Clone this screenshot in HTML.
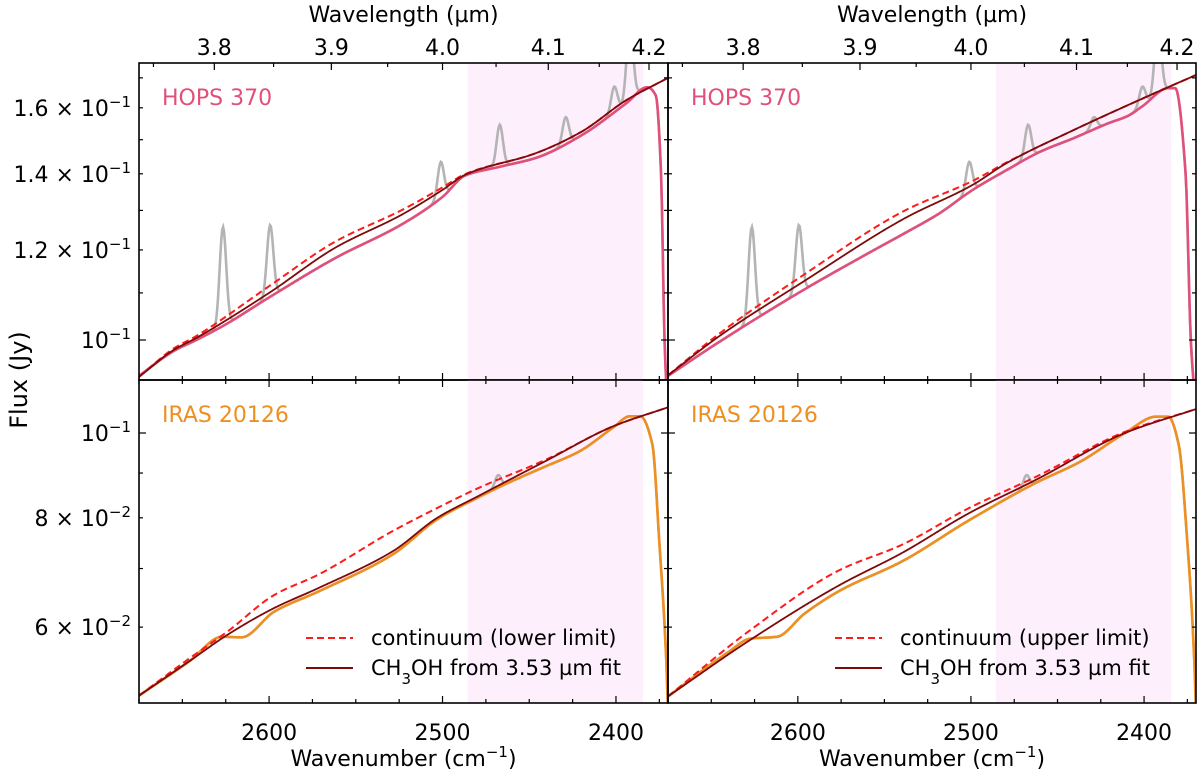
<!DOCTYPE html>
<html><head><meta charset="utf-8"><style>
html,body{margin:0;padding:0;background:#fff;}
svg{display:block;font-family:"DejaVu Sans","Liberation Sans",sans-serif;}
</style></head><body>
<svg id="chart" width="1200" height="772" viewBox="0 0 1200 772" xmlns="http://www.w3.org/2000/svg"></svg>
<script>
// ---------- DATA ----------
const shadeRange = [2485.5, 2384.5];
// HOPS 370 left (lower limit)
const hopsL_modelWn = [2675,2655,2642,2600,2562,2523,2500,2487,2446,2420,2394,2370];
const hopsL_modelF  = [0.0928,0.098,0.1004,0.110,0.1205,0.129,0.1355,0.1397,0.146,0.1524,0.1625,0.170];
const hopsL_contWn  = [2675,2655,2642,2600,2562,2523,2500,2487,2446,2420,2394,2370];
const hopsL_contF   = [0.0928,0.0983,0.1008,0.1115,0.122,0.1302,0.1362,0.1399,0.146,0.1524,0.1625,0.170];
const hopsL_dataWn  = [2675,2655,2642,2626,2600,2562,2523,2500,2487,2467,2446,2420,2394,2382,2377,2374,2372,2370.5];
const hopsL_dataF   = [0.093,0.0978,0.100,0.103,0.109,0.118,0.1265,0.1336,0.1395,0.142,0.1446,0.1513,0.1615,0.1668,0.164,0.14,0.10,0.088];
// HOPS 370 right (upper limit)
const hopsR_modelWn = [2675,2645.7,2597,2538,2499,2479.6,2440.5,2401,2370];
const hopsR_modelF  = [0.0931,0.1007,0.1125,0.128,0.1369,0.143,0.153,0.163,0.171];
const hopsR_contWn  = [2675,2645.7,2597,2538,2499,2479.6,2440.5,2401,2370];
const hopsR_contF   = [0.0931,0.1012,0.114,0.130,0.138,0.1432,0.153,0.163,0.171];
const hopsR_dataWn  = [2675,2645,2597,2557.6,2538,2519,2499,2479.6,2460,2440.5,2421,2409,2401,2386,2382,2376,2373,2370.5];
const hopsR_dataF   = [0.093,0.0997,0.1106,0.1196,0.1242,0.129,0.1355,0.141,0.1464,0.1505,0.155,0.1575,0.1605,0.1665,0.1665,0.14,0.10,0.088];
// Gray emission lines (HOPS): centres and absolute peak flux
const hopsLineWn = [2626.6,2599.4,2501,2467,2429,2401,2392];
const hopsLinePeak = [0.1257,0.1262,0.1434,0.1546,0.157,0.167,0.19];
// IRAS 20126 left
const irasL_modelWn = [2675,2645.7,2624,2597,2571.5,2528.5,2503,2479.4,2440.5,2401.5,2370];
const irasL_modelF  = [0.0501,0.0549,0.0588,0.0631,0.0665,0.0733,0.080,0.0847,0.0929,0.1018,0.107];
const irasL_contWn  = [2675,2645.7,2624,2597,2571.5,2528.5,2503,2479.4,2440.5,2401.5,2370];
const irasL_contF   = [0.0501,0.0553,0.0593,0.0653,0.0689,0.0773,0.0821,0.0865,0.0932,0.1018,0.107];
const irasL_dataWn  = [2675,2645.7,2627,2616,2597,2571.5,2528.5,2503,2479,2460,2440.5,2421,2401.5,2392,2386,2379,2375,2371,2370];
const irasL_dataF   = [0.0501,0.0549,0.0585,0.0584,0.0625,0.0659,0.0727,0.0797,0.0845,0.0881,0.0916,0.0953,0.1015,0.1045,0.1045,0.097,0.075,0.055,0.048];
// IRAS 20126 right
const irasR_modelWn = [2675,2627.6,2576,2540,2501,2462.5,2411,2370];
const irasR_modelF  = [0.050,0.058,0.067,0.0729,0.081,0.0884,0.100,0.1065];
const irasR_contWn  = [2675,2627.6,2576,2540,2501,2462.5,2411,2370];
const irasR_contF   = [0.050,0.0595,0.0697,0.0745,0.0821,0.0891,0.1003,0.1065];
const irasR_dataWn  = [2675,2640,2627.6,2612,2596,2576,2540,2501,2462.5,2437,2411,2393,2386,2380,2375,2371,2370];
const irasR_dataF   = [0.050,0.0562,0.0582,0.0585,0.0622,0.066,0.0713,0.0795,0.0877,0.0927,0.100,0.1044,0.1044,0.097,0.075,0.055,0.048];
const irasLineWn = [2468];
const irasLinePeak = [0.0895];
// ticks
const xMajor = [2600,2500,2400];
const wlMajor = [3.8,3.9,4.0,4.1,4.2];
const topYMinor = [0.09,0.11,0.13,0.15,0.17];
const topYLabeled = [0.12,0.14,0.16];
const topYLabels = ["1.2","1.4","1.6"];
const botYMinor = [0.07,0.09];
const botYLabeled = [0.06,0.08];
const botYLabels = ["6","8"];

// ---------- LAYOUT ----------
const NS="http://www.w3.org/2000/svg";
const svg=document.getElementById('chart');
const colL=[139,668], colR=[668,1196];
const rowT=[63,380], rowB=[380,703];
const wnMin=2370, wnMax=2675;
const C={hops:'#e0507a',iras:'#ee8f22',model:'#7f0a0a',cont:'#ff1a1a',gray:'#b4b4b4',shade:'#fdeffc'};
function el(t,a,p){const e=document.createElementNS(NS,t);for(const k in a)e.setAttribute(k,a[k]);(p||svg).appendChild(e);return e;}
function xs(col){return wn=>col[0]+(wnMax-wn)/(wnMax-wnMin)*(col[1]-col[0]);}
function ysTop(f){return 340-494*Math.log(f/0.1);}
function ysBot(f){return 433-380*Math.log(f/0.1);}
function pchip(xa,ya){
  const n=xa.length,h=[],d=[],m=new Array(n);
  for(let i=0;i<n-1;i++){h.push(xa[i+1]-xa[i]);d.push((ya[i+1]-ya[i])/h[i]);}
  m[0]=d[0];m[n-1]=d[n-2];
  for(let i=1;i<n-1;i++){
    if(d[i-1]*d[i]<=0)m[i]=0;
    else{const w1=2*h[i]+h[i-1],w2=h[i]+2*h[i-1];m[i]=(w1+w2)/(w1/d[i-1]+w2/d[i]);}
  }
  return x=>{
    let i=0;while(i<n-2&&x>xa[i+1])i++;
    const t=(x-xa[i])/h[i],t2=t*t,t3=t2*t;
    return (2*t3-3*t2+1)*ya[i]+(t3-2*t2+t)*h[i]*m[i]+(-2*t3+3*t2)*ya[i+1]+(t3-t2)*h[i]*m[i+1];
  };
}
function curve(wnArr,fArr){
  const xa=wnArr.slice().reverse(),ya=fArr.map(f=>Math.log(f)).reverse();
  const p=pchip(xa,ya);
  return w=>Math.exp(p(Math.min(Math.max(w,xa[0]),xa[xa.length-1])));
}
function sampledPath(fn,X,ys,wEnd){
  const pts=[];
  for(let w=wnMax;w>=wEnd;w-=0.5)pts.push(X(w).toFixed(2)+','+ys(fn(w)).toFixed(2));
  pts.push(X(wEnd).toFixed(2)+','+ys(fn(wEnd)).toFixed(2));
  return 'M'+pts.join('L');
}
const defs=el('defs',{});
function clipRect(id,col,row){
  const cp=el('clipPath',{id:id},defs);
  el('rect',{x:col[0],y:row[0],width:col[1]-col[0],height:row[1]-row[0]},cp);
}

function panel(opts){
  const {col,row,ys,name,label,labelColor,dataWn,dataF,modelWn,modelF,contWn,contF,lineWn,linePeak,top,bottom,leftLabels,yMinor,yLab,yLabTxt,yExp,legend}=opts;
  const X=xs(col);
  const g=el('g',{});
  
  
  const cid='clip-'+name; clipRect(cid,col,row);
  const pg=el('g',{'clip-path':'url(#'+cid+')'},g);
  const sh=el('rect',{x:X(shadeRange[0]),y:row[0],width:X(shadeRange[1])-X(shadeRange[0]),height:row[1]-row[0],fill:C.shade},pg);
  
  
  const dataFn=curve(dataWn,dataF);
  const wEnd=dataWn[dataWn.length-1];
  const amps=lineWn.map((c,k)=>linePeak[k]-dataFn(c));
  const grayFn=w=>{let f=dataFn(w);for(let k=0;k<lineWn.length;k++)f+=amps[k]*Math.exp(-0.5*Math.pow((w-lineWn[k])/1.8,2));return f;};
  const gl=el('path',{d:sampledPath(grayFn,X,ys,wEnd),fill:'none',stroke:C.gray,'stroke-width':2.6},pg);
  
  
  const dl=el('path',{d:sampledPath(dataFn,X,ys,wEnd),fill:'none',stroke:labelColor,'stroke-width':2.6},pg);
  
  
  const cl=el('path',{d:sampledPath(curve(contWn,contF),X,ys,wnMin),fill:'none',stroke:C.cont,'stroke-width':2,'stroke-dasharray':'7,4'},pg);
  
  
  const ml=el('path',{d:sampledPath(curve(modelWn,modelF),X,ys,wnMin),fill:'none',stroke:C.model,'stroke-width':1.8},pg);
  
  
  const fr=el('rect',{x:col[0],y:row[0],width:col[1]-col[0],height:row[1]-row[0],fill:'none',stroke:'#000','stroke-width':1.6},g);
  
  
  for(let w=2675;w>=2370;w-=25){
    const x=X(w); const maj=(w%100===0); const L=maj?7:4;
    el('line',{x1:x,x2:x,y1:row[1],y2:row[1]-L,stroke:'#000','stroke-width':1.2},g);
    if(!top) el('line',{x1:x,x2:x,y1:row[0],y2:row[0]+L,stroke:'#000','stroke-width':1.2},g);
  }
  if(top){
    for(let wl=3.75;wl<=4.2201;wl+=0.05){
      const x=X(10000/wl); if(x<col[0]||x>col[1])continue;
      el('line',{x1:x,x2:x,y1:row[0],y2:row[0]+(Math.abs(wl*10-Math.round(wl*10))<0.01?7:4),stroke:'#000','stroke-width':1.2},g);
    }
    wlMajor.forEach(wl=>{
      const t=el('text',{x:X(10000/wl),y:55,'font-size':22,'text-anchor':'middle'},g);
      t.textContent=wl.toFixed(1);
      
      
    });
    const tt=el('text',{x:(col[0]+col[1])/2,y:22,'font-size':22,'text-anchor':'middle'},g);
    tt.textContent='Wavelength (µm)';
    
    
  }
  if(bottom){
    xMajor.forEach(w=>{
      const t=el('text',{x:X(w),y:740,'font-size':22,'text-anchor':'middle'},g);
      t.textContent=String(w);
      
      
    });
    const xt=el('text',{x:(col[0]+col[1])/2,y:766,'font-size':22,'text-anchor':'middle'},g);
    xt.innerHTML='Wavenumber (cm<tspan baseline-shift="super" font-size="15">−1</tspan>)';
    
    
  }
  const allMinor=yMinor.concat(yLab);
  allMinor.forEach(f=>{const y=ys(f); if(y<row[0]||y>row[1])return;
    el('line',{x1:col[0],x2:col[0]+4,y1:y,y2:y,stroke:'#000','stroke-width':1.2},g);
    el('line',{x1:col[1],x2:col[1]-4,y1:y,y2:y,stroke:'#000','stroke-width':1.2},g);});
  const y1=ys(0.1);
  el('line',{x1:col[0],x2:col[0]+7,y1:y1,y2:y1,stroke:'#000','stroke-width':1.2},g);
  el('line',{x1:col[1],x2:col[1]-7,y1:y1,y2:y1,stroke:'#000','stroke-width':1.2},g);
  if(leftLabels){
    const t=el('text',{x:col[0]-8,y:y1+8,'font-size':22,'text-anchor':'end'},g);
    t.innerHTML='10<tspan baseline-shift="super" font-size="15">−1</tspan>';
    
    
    yLab.forEach((f,i)=>{
      const tl=el('text',{x:col[0]-8,y:ys(f)+8,'font-size':22,'text-anchor':'end'},g);
      tl.innerHTML=yLabTxt[i]+' × 10<tspan baseline-shift="super" font-size="15">'+yExp+'</tspan>';
      
      
    });
  }
  const lb=el('text',{x:col[0]+23,y:row[0]+42,'font-size':22,fill:labelColor},g);
  lb.textContent=label;
  
  
  if(legend){
    const lg=el('g',{},g);
    
    
    const lx=col[0]+167;
    el('line',{x1:lx,x2:lx+47,y1:638,y2:638,stroke:C.cont,'stroke-width':2,'stroke-dasharray':'7,4'},lg);
    el('line',{x1:lx,x2:lx+47,y1:668,y2:668,stroke:C.model,'stroke-width':2},lg);
    const t1=el('text',{x:lx+65,y:645,'font-size':21},lg); t1.textContent=legend;
    
    
    const t2=el('text',{x:lx+65,y:675,'font-size':21},lg);
    t2.innerHTML='CH<tspan baseline-shift="sub" font-size="15">3</tspan>OH from 3.53 µm fit';
    
    
  }
}
panel({col:colL,row:rowT,ys:ysTop,name:'hops-lower-panel',label:'HOPS 370',labelColor:C.hops,dataWn:hopsL_dataWn,dataF:hopsL_dataF,modelWn:hopsL_modelWn,modelF:hopsL_modelF,contWn:hopsL_contWn,contF:hopsL_contF,lineWn:hopsLineWn,linePeak:hopsLinePeak,top:true,bottom:false,leftLabels:true,yMinor:topYMinor,yLab:topYLabeled,yLabTxt:topYLabels,yExp:'−1'});
panel({col:colR,row:rowT,ys:ysTop,name:'hops-upper-panel',label:'HOPS 370',labelColor:C.hops,dataWn:hopsR_dataWn,dataF:hopsR_dataF,modelWn:hopsR_modelWn,modelF:hopsR_modelF,contWn:hopsR_contWn,contF:hopsR_contF,lineWn:hopsLineWn,linePeak:hopsLinePeak,top:true,bottom:false,leftLabels:false,yMinor:topYMinor,yLab:topYLabeled,yLabTxt:topYLabels,yExp:'−1'});
panel({col:colL,row:rowB,ys:ysBot,name:'iras-lower-panel',label:'IRAS 20126',labelColor:C.iras,dataWn:irasL_dataWn,dataF:irasL_dataF,modelWn:irasL_modelWn,modelF:irasL_modelF,contWn:irasL_contWn,contF:irasL_contF,lineWn:irasLineWn,linePeak:irasLinePeak,top:false,bottom:true,leftLabels:true,yMinor:botYMinor,yLab:botYLabeled,yLabTxt:botYLabels,yExp:'−2',legend:'continuum (lower limit)'});
panel({col:colR,row:rowB,ys:ysBot,name:'iras-upper-panel',label:'IRAS 20126',labelColor:C.iras,dataWn:irasR_dataWn,dataF:irasR_dataF,modelWn:irasR_modelWn,modelF:irasR_modelF,contWn:irasR_contWn,contF:irasR_contF,lineWn:irasLineWn,linePeak:irasLinePeak,top:false,bottom:true,leftLabels:false,yMinor:botYMinor,yLab:botYLabeled,yLabTxt:botYLabels,yExp:'−2',legend:'continuum (upper limit)'});
const yt=el('text',{x:0,y:0,'font-size':24,'text-anchor':'middle',transform:'translate(27,380) rotate(-90)'});
yt.textContent='Flux (Jy)';


</script>
</body></html>
